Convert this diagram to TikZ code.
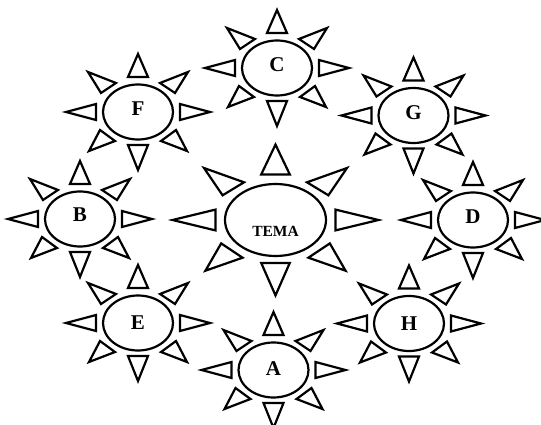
\documentclass[tikz,border=0pt]{standalone}
\usepackage{fontspec}
\setmainfont{Liberation Serif}
\usetikzlibrary{shapes.geometric}

\tikzset{
  ray/.style={draw, line width=2.2pt, line join=miter},
  pics/rays/.style={code={
    \draw[ray] (-10,35) -- (10,35) -- (0,58) -- cycle;
    \draw[ray] (-10,-33) -- (10,-33) -- (0,-58) -- cycle;
    \draw[ray] (-42,8) -- (-42,-8) -- (-72,0) -- cycle;
    \draw[ray] (42,8) -- (42,-8) -- (72,0) -- cycle;
    \foreach \s in {1,-1} {
      \draw[ray] (\s*22,29) -- (\s*37,19) -- (\s*50,40) -- cycle;
      \draw[ray] (\s*23,-29) -- (\s*38,-18) -- (\s*49,-39) -- cycle;
    }
  }}
}

\begin{document}
\begin{tikzpicture}[x=1pt, y=1pt, font=\bfseries\fontsize{21}{21}\selectfont,
  body/.style={draw, ellipse, line width=2.2pt, inner sep=0pt, minimum width=70pt, minimum height=55pt},
  big/.style={body, minimum width=101pt, minimum height=72pt}]
  \useasboundingbox (0,0) rectangle (541,424);
  % centre sun
  \node[big] (tema) at (275.5,204) {};
  \node[font=\bfseries\fontsize{15.5}{15.5}\selectfont] (tema-l) at ([yshift=-11pt]tema.center) {TEMA};
  \pic[xscale=1.43, yscale=1.3] at (tema) {rays};
  % small suns
  \foreach \n/\t/\px/\py/\dy in {c/C/277/356/3.5, f/F/138/312/3, g/G/413.5/308.5/2.5,
      b/B/80/205/4, d/D/473/204/3, e/E/138/101/0, h/H/409/100.5/0, a/A/273.5/54/1} {
    \node[body] (\n) at (\px,\py) {};
    \node (\n-l) at ([yshift=\dy pt]\n.center) {\t};
    \pic at (\n) {rays};
  }
\end{tikzpicture}
\end{document}
